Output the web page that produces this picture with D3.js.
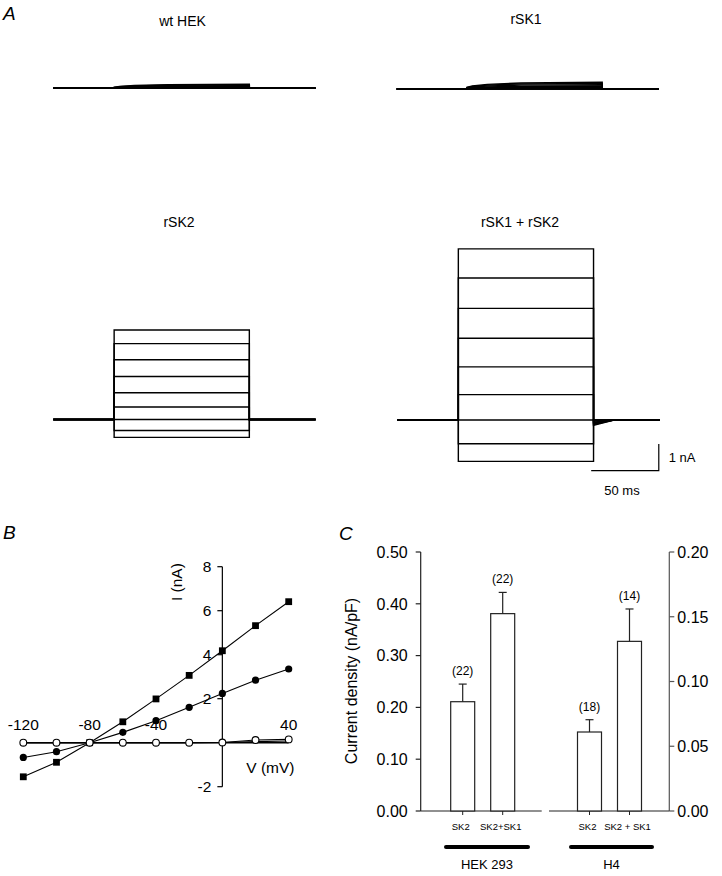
<!DOCTYPE html>
<html><head><meta charset="utf-8">
<script src="https://cdn.jsdelivr.net/npm/d3@7"></script>
<style>
body{margin:0;background:#fff}
svg{display:block}
text{font-family:"Liberation Sans",Arial,Helvetica,sans-serif;fill:#000}
</style>
</head><body>
<svg id="chart" width="722" height="876"></svg>
<script>
// ---------- Panel A : current traces ----------
const stepVoltages = [-120, -100, -80, -60, -40, -20, 0, 20, 40];   // mV
const traceTitles = ["wt HEK", "rSK1", "rSK2", "rSK1 + rSK2"];
const tracePulseOn = [45, 52, 45, 45];          // ms, pulse onset per panel
const pulseDuration = 100;                       // ms
const sweepDuration = 194;                       // ms
const wtHEKSweep = [0, 0, 0, 0.02, 0.04, 0.07, 0.10, 0.13, 0.15];   // nA at end of pulse
const rSK1Sweep  = [0, 0, 0, 0.03, 0.07, 0.11, 0.16, 0.21, 0.25];   // nA
const slowActTime = [0, 4, 15, 40, 100];          // ms after onset
const slowActFrac = [0.25, 0.45, 0.7, 0.9, 1];    // fraction of final amplitude
const tailAmps = [0, 0, 0, -0.05, -0.08, -0.11, -0.14, -0.17, -0.2]; // nA, rSK1+rSK2 tail
const tailDuration = 15;                          // ms

// ---------- Panel B : I-V relations ----------
const ivVoltage = [-120, -100, -80, -60, -40, -20, 0, 20, 40];
const ivSK1SK2 = [-1.55, -0.89, 0, 0.95, 1.99, 3.06, 4.18, 5.32, 6.41];
const ivSK2    = [-0.67, -0.41, 0, 0.47, 1.00, 1.61, 2.24, 2.84, 3.35];
const ivSK1    = [0, 0, 0, 0, 0, 0, 0.01, 0.05, 0.08];
const ivWtHEK  = [0, 0, 0, 0, 0, 0, 0.01, 0.12, 0.15];
const ivYTicks = [-2, 2, 4, 6, 8];
const ivXTickLabels = [-120, -80, -40, 40];

// ---------- Panel C : current density ----------
const hekCats = ["SK2", "SK2+SK1"];
const hekMean = [0.211, 0.381];
const hekSem  = [0.034, 0.041];
const hekN    = [22, 22];
const h4Cats  = ["SK2", "SK2 + SK1"];
const h4Mean  = [0.061, 0.131];
const h4Sem   = [0.0095, 0.025];
const h4N     = [18, 14];
const leftTicks  = [0, 0.1, 0.2, 0.3, 0.4, 0.5];
const rightTicks = [0, 0.05, 0.1, 0.15, 0.2];

const svg = d3.select("#chart");
svg.append("rect").attr("width", 722).attr("height", 876).attr("fill", "#fff");

function panelLabel(t, x, y) {
  svg.append("text").attr("x", x).attr("y", y).attr("font-size", 19)
    .attr("font-style", "italic").text(t);
}
panelLabel("A", 3, 20);
panelLabel("B", 3, 539);
panelLabel("C", 339, 540);

// ================= Panel A =================
const pxPerMs = 67.6 / 50;
const pxPerNA = 26.7;
const panelOrigins = [[53.3, 88.3], [396.7, 89.0], [53.3, 419.5], [397.5, 420.0]];
const titlePos = [[182.5, 25.7], [526, 24], [179, 227], [520, 227]];

const lineGen = d3.line();

function drawTraces(i, amps, actT, actF, tails) {
  const [ox, oy] = panelOrigins[i];
  const xs = d3.scaleLinear().domain([0, sweepDuration]).range([ox, ox + sweepDuration * pxPerMs]);
  const ys = d3.scaleLinear().domain([0, 1]).range([oy, oy - pxPerNA]);
  const on = tracePulseOn[i], off = on + pulseDuration;
  const g = svg.append("g");
  amps.forEach((a, k) => {
    const pts = [[0, 0], [on, 0]];
    actT.forEach((t, j) => pts.push([on + t, a * actF[j]]));
    pts.push([off, a]);
    const tail = tails ? tails[k] : 0;
    pts.push([off, tail]);
    if (tail !== 0) pts.push([off + tailDuration, 0]);
    pts.push([sweepDuration, 0]);
    g.append("path")
      .attr("d", lineGen(pts.map(p => [xs(p[0]), ys(p[1])])))
      .attr("fill", "none").attr("stroke", "#000")
      .attr("stroke-width", 1.4).attr("stroke-linejoin", "miter");
  });
  svg.append("text").attr("x", titlePos[i][0]).attr("y", titlePos[i][1])
    .attr("text-anchor", "middle").attr("font-size", 14).text(traceTitles[i]);
  return {xs, ys};
}

drawTraces(0, wtHEKSweep, slowActTime, slowActFrac, null);
drawTraces(1, rSK1Sweep, slowActTime, slowActFrac, null);
drawTraces(2, ivSK2, [0], [1], null);
const lastPanel = drawTraces(3, ivSK1SK2, [0], [1], tailAmps);

// scale bar (1 nA, 50 ms)
{
  const {xs, ys} = lastPanel;
  const xEnd = xs(sweepDuration) - 1;
  const yBot = 470.7;
  const x0 = xEnd - 50 * pxPerMs;
  const yTop = yBot - pxPerNA;
  svg.append("path")
    .attr("d", `M${x0},${yBot}H${xEnd}V${yTop}`)
    .attr("fill", "none").attr("stroke", "#000").attr("stroke-width", 1.2);
  svg.append("text").attr("x", xEnd + 10).attr("y", (yBot + yTop) / 2 + 4.5)
    .attr("font-size", 13).text("1 nA");
  svg.append("text").attr("x", (x0 + xEnd) / 2 - 3).attr("y", 495)
    .attr("text-anchor", "middle").attr("font-size", 13).text("50 ms");
}

// ================= Panel B =================
{
  const x = d3.scaleLinear().domain([-120, 40]).range([23.3, 288.7]);
  const y = d3.scaleLinear().domain([-2, 8]).range([786.7, 566.7]);
  const g = svg.append("g");
  // y axis
  g.append("line").attr("x1", x(0)).attr("x2", x(0)).attr("y1", y(-2)).attr("y2", y(8))
    .attr("stroke", "#000").attr("stroke-width", 1.2);
  ivYTicks.forEach(v => {
    g.append("line").attr("x1", x(0) - 5).attr("x2", x(0)).attr("y1", y(v)).attr("y2", y(v))
      .attr("stroke", "#000").attr("stroke-width", 1.2);
    g.append("text").attr("x", x(0) - 11).attr("y", y(v) + 5.5)
      .attr("text-anchor", "end").attr("font-size", 15.5).text(v);
  });
  // x tick labels
  ivXTickLabels.forEach(v => {
    g.append("text").attr("x", x(v)).attr("y", y(0) - 13)
      .attr("text-anchor", "middle").attr("font-size", 15.5).text(v);
  });
  g.append("text").attr("transform", `translate(${x(0) - 40},${y(7.3)}) rotate(-90)`)
    .attr("text-anchor", "middle").attr("font-size", 15.5).text("I (nA)");
  g.append("text").attr("x", x(0) + 48).attr("y", y(0) + 30.5)
    .attr("text-anchor", "middle").attr("font-size", 15.5).text("V (mV)");
  // x axis
  g.append("line").attr("x1", x(-120)).attr("x2", x(40)).attr("y1", y(0)).attr("y2", y(0))
    .attr("stroke", "#000").attr("stroke-width", 1.6);

  const line = d3.line().x((d, i) => x(ivVoltage[i])).y(d => y(d));
  [ivSK1, ivWtHEK, ivSK2, ivSK1SK2].forEach(s => {
    g.append("path").attr("d", line(s)).attr("fill", "none")
      .attr("stroke", "#000").attr("stroke-width", 1.1);
  });
  // markers
  g.selectAll(".sq").data(ivSK1SK2).join("rect")
    .attr("x", (d, i) => x(ivVoltage[i]) - 3.4).attr("y", d => y(d) - 3.4)
    .attr("width", 6.8).attr("height", 6.8).attr("fill", "#000");
  g.selectAll(".fc").data(ivSK2).join("circle")
    .attr("cx", (d, i) => x(ivVoltage[i])).attr("cy", d => y(d)).attr("r", 3.6).attr("fill", "#000");
  g.selectAll(".oc").data(ivWtHEK).join("circle")
    .attr("cx", (d, i) => x(ivVoltage[i])).attr("cy", d => y(d)).attr("r", 3.4)
    .attr("fill", "#fff").attr("stroke", "#000").attr("stroke-width", 1.1);
}

// ================= Panel C =================
{
  const yL = d3.scaleLinear().domain([0, 0.5]).range([811, 552]);
  const yR = d3.scaleLinear().domain([0, 0.2]).range([811, 552]);
  const axL = 420.7, axR = 669.3;
  const g = svg.append("g");
  // left axis
  g.append("line").attr("x1", axL).attr("x2", axL).attr("y1", yL(0)).attr("y2", yL(0.5))
    .attr("stroke", "#222").attr("stroke-width", 1.2);
  leftTicks.forEach(v => {
    g.append("line").attr("x1", axL - 5).attr("x2", axL).attr("y1", yL(v)).attr("y2", yL(v))
      .attr("stroke", "#222").attr("stroke-width", 1.2);
    g.append("text").attr("x", axL - 13).attr("y", yL(v) + 5.8)
      .attr("text-anchor", "end").attr("font-size", 16).text(d3.format(".2f")(v));
  });
  // right axis
  g.append("line").attr("x1", axR).attr("x2", axR).attr("y1", yR(0)).attr("y2", yR(0.2))
    .attr("stroke", "#555").attr("stroke-width", 1.2);
  rightTicks.forEach(v => {
    g.append("line").attr("x1", axR).attr("x2", axR + 5).attr("y1", yR(v)).attr("y2", yR(v))
      .attr("stroke", "#555").attr("stroke-width", 1.2);
    g.append("text").attr("x", axR + 8).attr("y", yR(v) + 5.8)
      .attr("font-size", 16).text(d3.format(".2f")(v));
  });
  g.append("text").attr("transform", `translate(357,681) rotate(-90)`)
    .attr("text-anchor", "middle").attr("font-size", 16).text("Current density (nA/pF)");

  function group(cats, mean, sem, n, yS, x0, x1, barStart, lineX0, lineX1, name) {
    g.append("line").attr("x1", x0).attr("x2", x1).attr("y1", yS(0)).attr("y2", yS(0))
      .attr("stroke", "#222").attr("stroke-width", 1.2);
    const xb = d3.scaleBand().domain(cats).range([barStart, barStart + 80])
      .paddingInner(0.4).paddingOuter(0.2);
    cats.forEach((c, i) => {
      const bx = xb(c), bw = xb.bandwidth(), cx = bx + bw / 2;
      g.append("rect").attr("x", bx).attr("y", yS(mean[i])).attr("width", bw)
        .attr("height", yS(0) - yS(mean[i])).attr("fill", "#fff")
        .attr("stroke", "#222").attr("stroke-width", 1.2);
      const top = yS(mean[i] + sem[i]);
      g.append("line").attr("x1", cx).attr("x2", cx).attr("y1", yS(mean[i])).attr("y2", top)
        .attr("stroke", "#222").attr("stroke-width", 1.2);
      g.append("line").attr("x1", cx - 4).attr("x2", cx + 4).attr("y1", top).attr("y2", top)
        .attr("stroke", "#222").attr("stroke-width", 1.2);
      g.append("text").attr("x", cx).attr("y", top - 9).attr("text-anchor", "middle")
        .attr("font-size", 12).text(`(${n[i]})`);
      g.append("line").attr("x1", cx).attr("x2", cx).attr("y1", yS(0)).attr("y2", yS(0) + 4)
        .attr("stroke", "#222").attr("stroke-width", 1);
      g.append("text").attr("x", cx - 2).attr("y", 830).attr("text-anchor", "middle")
        .attr("font-size", 9.5).text(c);
    });
    g.append("line").attr("x1", lineX0).attr("x2", lineX1).attr("y1", 847).attr("y2", 847)
      .attr("stroke", "#000").attr("stroke-width", 4).attr("stroke-linecap", "round");
    g.append("text").attr("x", (lineX0 + lineX1) / 2).attr("y", 868.5)
      .attr("text-anchor", "middle").attr("font-size", 13).text(name);
  }
  group(hekCats, hekMean, hekSem, hekN, yL, axL, 541.7, axL + 22, 446, 528, "HEK 293");
  group(h4Cats, h4Mean, h4Sem, h4N, yR, 549, axR, 549 + 20.5, 571, 652, "H4");
}
</script>
</body></html>
